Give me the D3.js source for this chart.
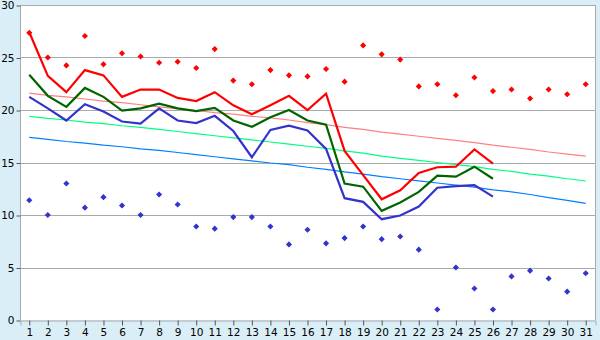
<!DOCTYPE html>
<html><head><meta charset="utf-8">
<script src="https://cdn.jsdelivr.net/npm/d3@7"></script>
<style>
html,body{margin:0;padding:0;background:#daeef7;}
svg{display:block;}
</style></head>
<body>
<svg id="chart" width="600" height="340"></svg>
<script>
const days = d3.range(1, 32);
const yTicks = [0, 5, 10, 15, 20, 25, 30];

const maxLine = [27.4, 23.25, 21.7, 23.8, 23.3, 21.25, 21.95, 21.95, 21.15, 20.85, 21.7, 20.45, 19.6, 20.45, 21.35, 20.0, 21.55, 16.1, 13.8, 11.5, 12.35, 14.0, 14.55, 14.6, 16.25, 14.9];
const meanLine = [23.35, 21.35, 20.3, 22.1, 21.25, 19.95, 20.15, 20.6, 20.15, 19.9, 20.2, 19.0, 18.4, 19.3, 20.0, 19.0, 18.6, 13.0, 12.7, 10.4, 11.2, 12.2, 13.75, 13.65, 14.6, 13.45];
const minLine = [21.25, 20.15, 19.0, 20.55, 19.85, 18.9, 18.7, 20.15, 19.0, 18.75, 19.45, 18.0, 15.5, 18.1, 18.5, 18.05, 16.3, 11.6, 11.25, 9.6, 9.95, 10.8, 12.6, 12.75, 12.85, 11.75];

const maxPoints = [27.35, 25.0, 24.25, 27.05, 24.35, 25.4, 25.1, 24.5, 24.6, 24.0, 25.8, 22.8, 22.45, 23.8, 23.3, 23.2, 23.9, 22.7, 26.15, 25.3, 24.8, 22.25, 22.45, 21.4, 23.1, 21.8, 21.95, 21.1, 21.95, 21.5, 22.45];
const minPoints = [11.4, 10.0, 13.0, 10.7, 11.7, 10.9, 10.0, 11.95, 11.0, 8.9, 8.7, 9.8, 9.8, 8.9, 7.2, 8.6, 7.3, 7.8, 8.9, 7.7, 7.95, 6.7, 1.0, 5.0, 3.0, 1.0, 4.15, 4.7, 3.95, 2.7, 4.45];

const normMax = [21.6, 21.4, 21.25, 21.05, 20.85, 20.7, 20.5, 20.3, 20.1, 19.95, 19.75, 19.6, 19.4, 19.25, 19.05, 18.8, 18.6, 18.35, 18.15, 17.9, 17.7, 17.5, 17.3, 17.1, 16.9, 16.65, 16.45, 16.25, 16.0, 15.8, 15.6];
const normMean = [19.4, 19.2, 19.05, 18.85, 18.7, 18.5, 18.35, 18.15, 17.95, 17.75, 17.55, 17.35, 17.15, 16.95, 16.75, 16.55, 16.35, 16.1, 15.9, 15.6, 15.4, 15.2, 15.0, 14.8, 14.6, 14.35, 14.15, 13.9, 13.7, 13.45, 13.24];
const normMin = [17.4, 17.2, 17.0, 16.85, 16.65, 16.5, 16.3, 16.15, 15.95, 15.75, 15.55, 15.35, 15.15, 14.95, 14.8, 14.55, 14.35, 14.1, 13.9, 13.65, 13.45, 13.25, 13.05, 12.85, 12.65, 12.4, 12.2, 11.95, 11.65, 11.4, 11.1];

const svg = d3.select("#chart");
const L = 20, R = 595, T = 5, B = 320;

const x = d3.scaleBand().domain(days).range([L, R]);
const xc = d => x(d) + x.bandwidth() / 2;
const y = d3.scaleLinear().domain([0, 30]).range([B, T]);

svg.append("rect").attr("x", L).attr("y", T).attr("width", R - L).attr("height", B - T).attr("fill", "#ffffff");

// grid
svg.append("g").selectAll("line").data(yTicks.filter(v => v > 0)).join("line")
  .attr("x1", L).attr("x2", R)
  .attr("y1", d => Math.round(y(d)) + 0.5).attr("y2", d => Math.round(y(d)) + 0.5)
  .attr("stroke", "#aaaaaa").attr("stroke-width", 1);
// right border
svg.append("line").attr("x1", R + 0.5).attr("x2", R + 0.5).attr("y1", T).attr("y2", B)
  .attr("stroke", "#aaaaaa");

// axes
const yAxis = d3.axisLeft(y).tickValues(yTicks).tickSize(4).tickPadding(2);
const gy = svg.append("g").attr("transform", `translate(${L + 0.5},0.5)`).call(yAxis);
const xAxis = d3.axisBottom(x).tickSize(5).tickPadding(3);
const gx = svg.append("g").attr("transform", `translate(0.5,${B + 0.5})`).call(xAxis);
[gx, gy].forEach(g => {
  g.selectAll(".domain").attr("stroke", "#aaaaaa");
  g.selectAll(".tick line").attr("stroke", "#555555");
  g.selectAll("text").attr("fill", "#000").style("font-family", "DejaVu Sans, sans-serif").style("font-size", "10.5px");
});
gy.select(".domain").attr("d", `M0,${B}V${T}`);

const line = arr => d3.line().x((v, i) => xc(days[i])).y(v => y(v))(arr);

// trend / normal lines
[[normMax, "#ff8080"], [normMean, "#00ff80"], [normMin, "#0080ff"]].forEach(([arr, c]) => {
  svg.append("path").attr("d", line(arr)).attr("fill", "none").attr("stroke", c).attr("stroke-width", 1.2);
});

// main lines
[[maxLine, "#ff0000"], [meanLine, "#006400"], [minLine, "#3333cc"]].forEach(([arr, c]) => {
  svg.append("path").attr("d", line(arr)).attr("fill", "none").attr("stroke", c).attr("stroke-width", 2.2);
});

// points (small diamonds)
const sym = d3.symbol().type(d3.symbolSquare).size(11);
[[maxPoints, "#ff0000"], [minPoints, "#3333cc"]].forEach(([arr, c]) => {
  svg.append("g").selectAll("path").data(arr).join("path")
    .attr("d", sym)
    .attr("transform", (v, i) => `translate(${xc(days[i])},${y(v)}) rotate(45)`)
    .attr("fill", c).attr("stroke", c).attr("stroke-width", 1);
});
</script>
</body></html>
